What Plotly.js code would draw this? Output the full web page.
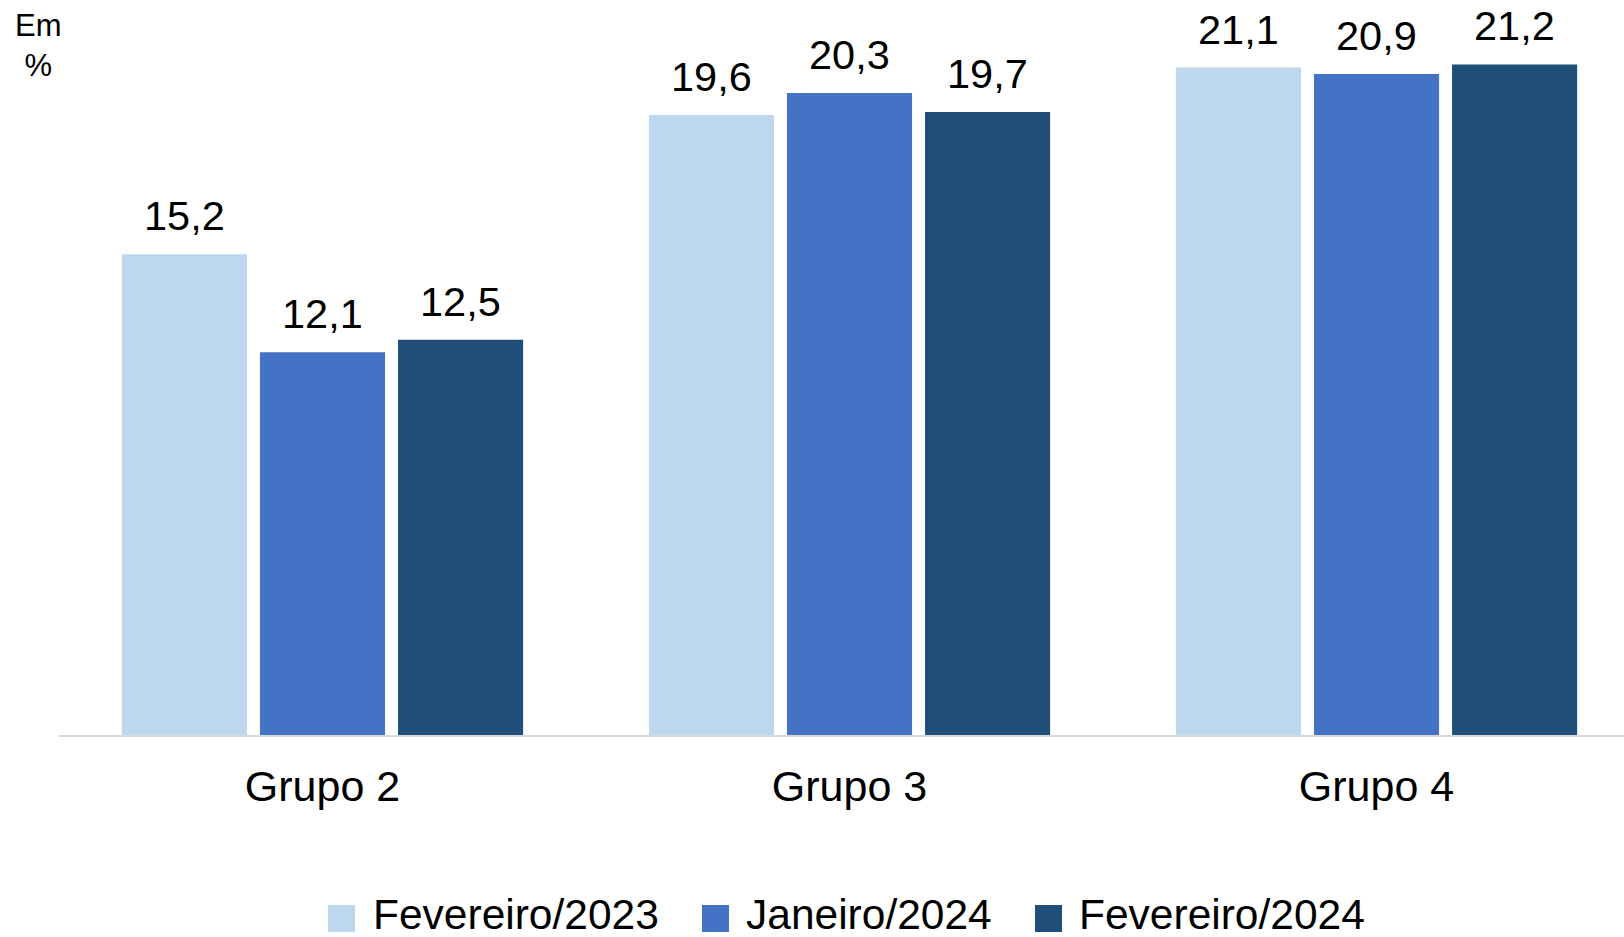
<!DOCTYPE html>
<html>
<head>
<meta charset="utf-8">
<script src="https://cdn.plot.ly/plotly-3.0.1.min.js"></script>
<style>
  html, body { margin: 0; padding: 0; background: #ffffff; }
  #chart { width: 1624px; height: 937px; }
</style>
</head>
<body>
<div id="chart"></div>
<script>
const categories = ["Grupo 2", "Grupo 3", "Grupo 4"];
const seriesNames = ["Fevereiro/2023", "Janeiro/2024", "Fevereiro/2024"];
const fev2023 = [15.2, 19.6, 21.1];
const jan2024 = [12.1, 20.3, 20.9];
const fev2024 = [12.5, 19.7, 21.2];
const unitLabel = "Em<br>%";

const seriesValues = [fev2023, jan2024, fev2024];
const colors = ["#BDD7EE", "#4472C4", "#1F4E79"];

const W = 1624, H = 937;
const M = { l: 59, r: 0, t: 20, b: 202 };
const plotW = W - M.l - M.r, plotH = H - M.t - M.b;
const FONT = "Liberation Sans, Arial, sans-serif";

function fmt(v) { return v.toFixed(1).replace(".", ","); }
function px2paperX(px) { return (px - M.l) / plotW; }
function px2paperY(py) { return (H - M.b - py) / plotH; }

const traces = seriesNames.map((name, i) => ({
  type: "bar",
  name: name,
  x: categories,
  y: seriesValues[i],
  marker: { color: colors[i], line: { width: 0 } },
  hoverinfo: "x+y+name",
  showlegend: false
}));

const catPx = plotW / 2.9696;
const slotPx = catPx * (1 - 0.214) / 3;

const annotations = [];
seriesValues.forEach((vals, i) => {
  vals.forEach((v, j) => {
    annotations.push({
      x: categories[j], y: v, xref: "x", yref: "y",
      xshift: (i - 1) * slotPx, yshift: 13,
      yanchor: "bottom", xanchor: "center",
      text: fmt(v), showarrow: false,
      font: { family: FONT, size: 41.5, color: "#000000" }
    });
  });
});

// unit label
annotations.push({
  x: px2paperX(38), y: px2paperY(6), xref: "paper", yref: "paper",
  xanchor: "center", yanchor: "top", align: "center",
  text: unitLabel, showarrow: false,
  font: { family: FONT, size: 31, color: "#000000" }
});

// custom legend
const legendSquareX = [328, 702, 1035];
const legendTextX = [371, 744, 1077];
const shapes = [];
seriesNames.forEach((name, i) => {
  shapes.push({
    type: "rect", xref: "paper", yref: "paper",
    x0: px2paperX(legendSquareX[i]), x1: px2paperX(legendSquareX[i] + 27),
    y0: px2paperY(932), y1: px2paperY(905),
    fillcolor: colors[i], line: { width: 0 }
  });
  annotations.push({
    x: px2paperX(legendTextX[i]), y: px2paperY(940), xref: "paper", yref: "paper",
    xanchor: "left", yanchor: "bottom",
    text: name, showarrow: false,
    font: { family: FONT, size: 42.5, color: "#000000" }
  });
});

const layout = {
  width: W, height: H,
  margin: M,
  paper_bgcolor: "#ffffff",
  plot_bgcolor: "#ffffff",
  barmode: "group",
  bargap: 0.214,
  bargroupgap: 0.094,
  showlegend: false,
  separators: ",.",
  font: { family: FONT, color: "#000000" },
  xaxis: {
    type: "category",
    range: [-0.5, 2.4696],
    showline: true, linecolor: "#D9D9D9", linewidth: 1.5,
    ticks: "", showgrid: false, zeroline: false,
    tickfont: { family: FONT, size: 43, color: "#000000" },
    ticklabelstandoff: 13,
    fixedrange: true
  },
  yaxis: {
    range: [0, plotH / 31.63],
    showgrid: false, zeroline: false, showticklabels: false,
    showline: false, ticks: "", fixedrange: true
  },
  annotations: annotations,
  shapes: shapes
};

Plotly.newPlot("chart", traces, layout, { displayModeBar: false, staticPlot: false });
</script>
</body>
</html>
